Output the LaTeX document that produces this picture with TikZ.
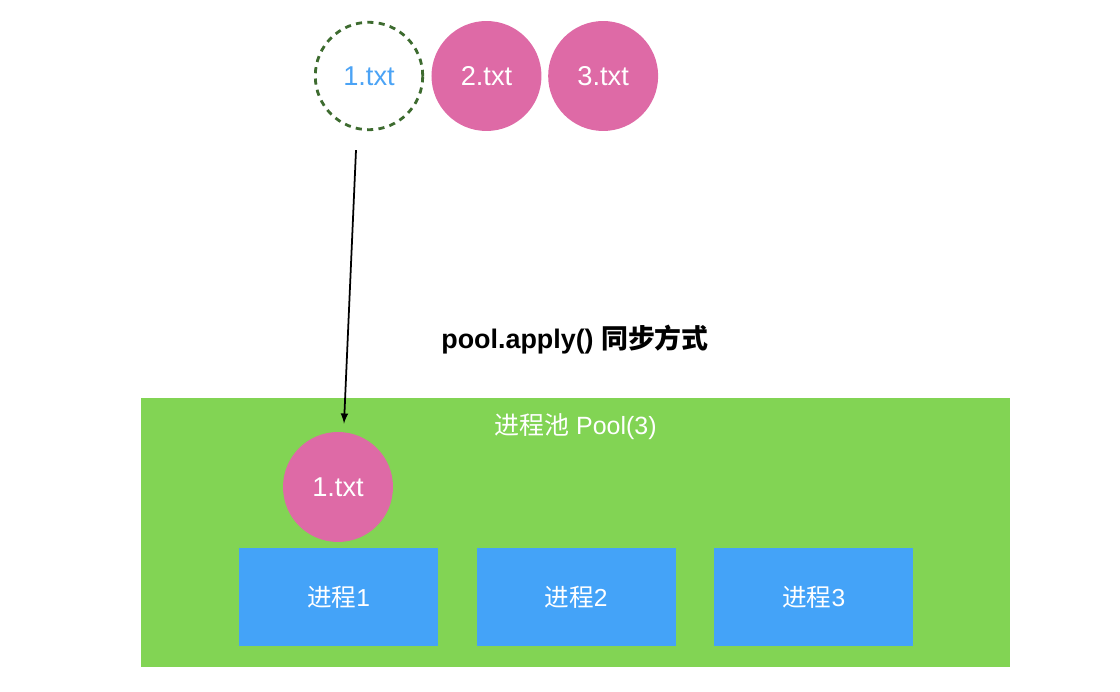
\documentclass[tikz,border=0pt]{standalone}
\usepackage{fontspec}
\setmainfont{Liberation Sans}
\newfontfamily\cjk{Noto Sans CJK SC}
\usetikzlibrary{calc,positioning}
\definecolor{filepink}{HTML}{DE6AA6}
\definecolor{poolgreen}{HTML}{82D454}
\definecolor{procblue}{HTML}{44A3F8}
\definecolor{dashgreen}{HTML}{3D6B2F}
\definecolor{labelblue}{HTML}{4BA3F5}

\begin{document}
\begin{tikzpicture}[x=0.02cm, y=-0.02cm,
        file/.style={circle, fill=filepink, minimum size=2.2cm, inner sep=0pt,
            text=white, font=\fontsize{15.5}{18}\selectfont},
        proc/.style={rectangle, fill=procblue, minimum width=3.98cm, minimum height=1.96cm,
            text=white, font=\fontsize{14}{16}\selectfont}]
        % pixel coordinates, y pointing down
        \useasboundingbox (0,0) rectangle (1120,692);
        % files waiting to be handed out
        \node[circle, draw=dashgreen, dashed, line width=1.6pt, dash pattern=on 3.5pt off 3pt,
            minimum size=2.15cm, inner sep=0pt, text=labelblue,
            font=\fontsize{15.5}{18}\selectfont] (file1) at (369,76) {1.txt};
        \node[file, right=0.14cm of file1] (file2) {2.txt};
        \node[file, right=0.12cm of file2] (file3) {3.txt};
        \node[font=\fontsize{15.3}{18}\selectfont\bfseries] (title) at (575,340) {pool.apply() {\cjk 同步方式}};
        % the pool and its workers
        \node[rectangle, fill=poolgreen, minimum width=17.38cm, minimum height=5.38cm] (pool) at (575.5,532.5) {};
        \node[text=white, font=\fontsize{14.2}{17}\selectfont] (poollabel) at ($(pool.north)+(0,29)$) {{\cjk 进程池} Pool(3)};
        \node[file] (task) at (338,487) {1.txt};
        \node[proc] (proc1) at (338.5,597) {{\cjk 进程}1};
        \node[proc, right=0.76cm of proc1] (proc2) {{\cjk 进程}2};
        \node[proc, right=0.76cm of proc2] (proc3) {{\cjk 进程}3};
        \draw[-latex, line width=1pt] ($(file1.south)+(-13,19)$) -- ($(task.north)+(6,-8)$);
    \end{tikzpicture}
\end{document}
